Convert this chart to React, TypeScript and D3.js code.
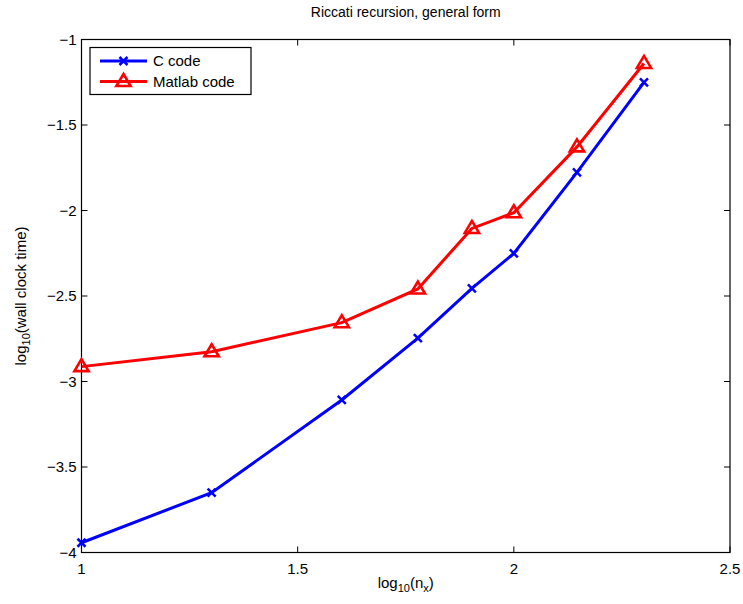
import React, { useEffect, useRef } from "react";
import * as d3 from "d3";

// log10(n_x) for n_x = 10, 20, 40, 60, 80, 100, 140, 200
const logNx = [1, 1.301, 1.602, 1.778, 1.903, 2, 2.146, 2.301];
const cCode = [-3.943, -3.65, -3.108, -2.746, -2.455, -2.251, -1.777, -1.251];
const matlabCode = [-2.913, -2.826, -2.656, -2.459, -2.105, -2.013, -1.628, -1.14];

const xTicks = [1, 1.5, 2, 2.5];
const yTicks = [-1, -1.5, -2, -2.5, -3, -3.5, -4];

const W = 743;
const H = 604;
const FONT = "'Liberation Sans', Arial, Helvetica, sans-serif";

const fmt = (v: number) => String(v).replace("-", "\u2212");

const App = () => {
  const ref = useRef<SVGSVGElement>(null);

  useEffect(() => {
    const svg = d3.select(ref.current);
    svg.selectAll("*").remove();

    const margin = { top: 39.5, right: 13, bottom: 51.5, left: 81.5 };
    const x = d3.scaleLinear().domain([1, 2.5]).range([margin.left, W - margin.right]);
    const y = d3.scaleLinear().domain([-4, -1]).range([H - margin.bottom, margin.top]);
    const tickLen = 6;

    svg.append("rect").attr("width", W).attr("height", H).attr("fill", "#fff");

    // axes box
    const [x0, x1] = x.range();
    const [y0, y1] = y.range();
    svg
      .append("rect")
      .attr("x", x0)
      .attr("y", y1)
      .attr("width", x1 - x0)
      .attr("height", y0 - y1)
      .attr("fill", "none")
      .attr("stroke", "#000")
      .attr("stroke-width", 1.2);

    // inward ticks on all four sides
    const ticks = svg.append("g").attr("stroke", "#000").attr("stroke-width", 1);
    xTicks.forEach((t) => {
      ticks.append("line").attr("x1", x(t)).attr("x2", x(t)).attr("y1", y0).attr("y2", y0 - tickLen);
      ticks.append("line").attr("x1", x(t)).attr("x2", x(t)).attr("y1", y1).attr("y2", y1 + tickLen);
    });
    yTicks.forEach((t) => {
      ticks.append("line").attr("x1", x0).attr("x2", x0 + tickLen).attr("y1", y(t)).attr("y2", y(t));
      ticks.append("line").attr("x1", x1).attr("x2", x1 - tickLen).attr("y1", y(t)).attr("y2", y(t));
    });

    svg
      .append("g")
      .selectAll("text")
      .data(xTicks)
      .join("text")
      .attr("x", (d) => x(d))
      .attr("y", y0 + 21)
      .attr("text-anchor", "middle")
      .attr("font-family", FONT)
      .attr("font-size", 15)
      .text((d) => fmt(d));

    svg
      .append("g")
      .selectAll("text")
      .data(yTicks)
      .join("text")
      .attr("x", x0 - 5)
      .attr("y", (d) => y(d) + 5)
      .attr("text-anchor", "end")
      .attr("font-family", FONT)
      .attr("font-size", 15)
      .text((d) => fmt(d));

    // title
    svg
      .append("text")
      .attr("x", (x0 + x1) / 2)
      .attr("y", 17)
      .attr("text-anchor", "middle")
      .attr("font-family", FONT)
      .attr("font-size", 14)
      .text("Riccati recursion, general form");

    // x label
    const xl = svg
      .append("text")
      .attr("x", (x0 + x1) / 2)
      .attr("y", 588)
      .attr("text-anchor", "middle")
      .attr("font-family", FONT)
      .attr("font-size", 15);
    xl.append("tspan").text("log");
    xl.append("tspan").attr("font-size", 11).attr("dy", 4).text("10");
    xl.append("tspan").attr("dy", -4).text("(n");
    xl.append("tspan").attr("font-size", 11).attr("dy", 4).text("x");
    xl.append("tspan").attr("dy", -4).text(")");

    // y label
    const yl = svg
      .append("text")
      .attr("transform", `translate(26,${(y0 + y1) / 2}) rotate(-90)`)
      .attr("text-anchor", "middle")
      .attr("font-family", FONT)
      .attr("font-size", 15);
    yl.append("tspan").text("log");
    yl.append("tspan").attr("font-size", 11).attr("dy", 4).text("10");
    yl.append("tspan").attr("dy", -4).text("(wall clock time)");

    const series = [
      { name: "C code", values: cCode, color: "#0000ff", marker: "x" },
      { name: "Matlab code", values: matlabCode, color: "#ff0000", marker: "tri" },
    ];

    const line = d3
      .line<number>()
      .x((_, i) => x(logNx[i]))
      .y((d) => y(d));

    const drawMarker = (g: any, cx: number, cy: number, kind: string, color: string) => {
      if (kind === "x") {
        const s = 4;
        g.append("path")
          .attr("d", `M${cx - s},${cy - s}L${cx + s},${cy + s}M${cx - s},${cy + s}L${cx + s},${cy - s}`)
          .attr("stroke", color)
          .attr("stroke-width", 2.5)
          .attr("fill", "none");
      } else {
        const r = 7.5;
        g.append("path")
          .attr("d", `M${cx},${cy - r}L${cx + r * 0.95},${cy + r * 0.6}L${cx - r * 0.95},${cy + r * 0.6}Z`)
          .attr("stroke", color)
          .attr("stroke-width", 2.6)
          .attr("stroke-linejoin", "miter")
          .attr("fill", "none");
      }
    };

    series.forEach((s) => {
      const g = svg.append("g");
      g.append("path")
        .attr("d", line(s.values))
        .attr("fill", "none")
        .attr("stroke", s.color)
        .attr("stroke-width", 3);
      s.values.forEach((v, i) => drawMarker(g, x(logNx[i]), y(v), s.marker, s.color));
    });

    // legend
    const lg = svg.append("g");
    lg.append("rect")
      .attr("x", 90)
      .attr("y", 47.5)
      .attr("width", 161)
      .attr("height", 47)
      .attr("fill", "#fff")
      .attr("stroke", "#000")
      .attr("stroke-width", 1.2);
    series.forEach((s, i) => {
      const ly = 61 + i * 20.5;
      lg.append("line")
        .attr("x1", 100)
        .attr("x2", 147)
        .attr("y1", ly)
        .attr("y2", ly)
        .attr("stroke", s.color)
        .attr("stroke-width", 3);
      drawMarker(lg, 123.5, ly, s.marker, s.color);
      lg.append("text")
        .attr("x", 153)
        .attr("y", ly + 5)
        .attr("font-family", FONT)
        .attr("font-size", 15)
        .text(s.name);
    });
  }, []);

  return (
    <div style={{ position: "fixed", left: 0, top: 0 }}>
      <svg ref={ref} width={W} height={H} style={{ display: "block" }} />
    </div>
  );
};

export default App;
